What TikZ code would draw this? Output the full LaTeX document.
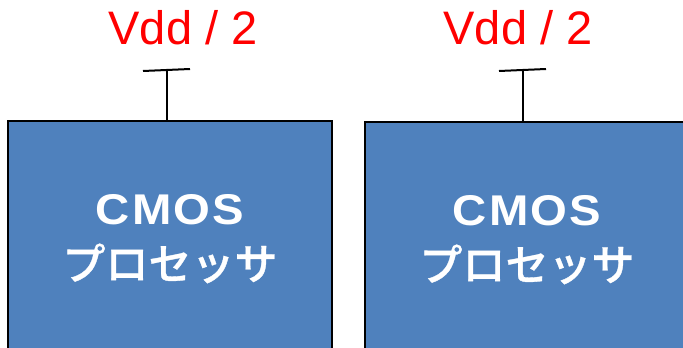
\documentclass[tikz,border=0pt]{standalone}
\usepackage{fontspec}
\usepackage{tikz}
\setmainfont{Liberation Sans}
\newfontfamily\jpfont{Noto Sans CJK JP}[UprightFont={* Medium}]
\usetikzlibrary{positioning, calc}
\definecolor{procblue}{HTML}{4F81BD}
\definecolor{vddred}{HTML}{FF0000}

\begin{document}
\begin{tikzpicture}[x=1pt, y=-1pt,
  procbox/.style={draw=black, line width=2pt, fill=procblue,
    minimum width=324pt, minimum height=236pt, inner sep=0pt,
    align=center, text=white, font=\fontsize{43}{55}\selectfont\bfseries},
  vddlabel/.style={text=vddred, font=\fontsize{47}{52}\selectfont},
  rail/.style={black, line width=2pt}]
  % page = 683 x 348 px, y runs downward
  \useasboundingbox (0,0) rectangle (683,348);
  \clip (0,0) rectangle (683,348);

  \foreach \n/\cx/\cy/\sx/\lx in {1/170/239/167/183, 2/527/240/523/518}{
    \node[procbox] (proc\n) at (\cx,\cy)
      {{\addfontfeature{FakeStretch=1.1,LetterSpace=5}CMOS}\\
       {\jpfont\mdseries\addfontfeature{FakeBold=0.8}プロセッサ}};
    % Vdd/2 supply stub
    \coordinate (vdd\n) at (\sx,70);
    \draw[rail] (vdd\n) -- (vdd\n |- proc\n.north);
    \draw[rail] ($(vdd\n)+(-24,1)$) -- ($(vdd\n)+(23,-1)$);
    \node[vddlabel] (lab\n) at (\lx,28) {Vdd / 2};
  }
\end{tikzpicture}
\end{document}
